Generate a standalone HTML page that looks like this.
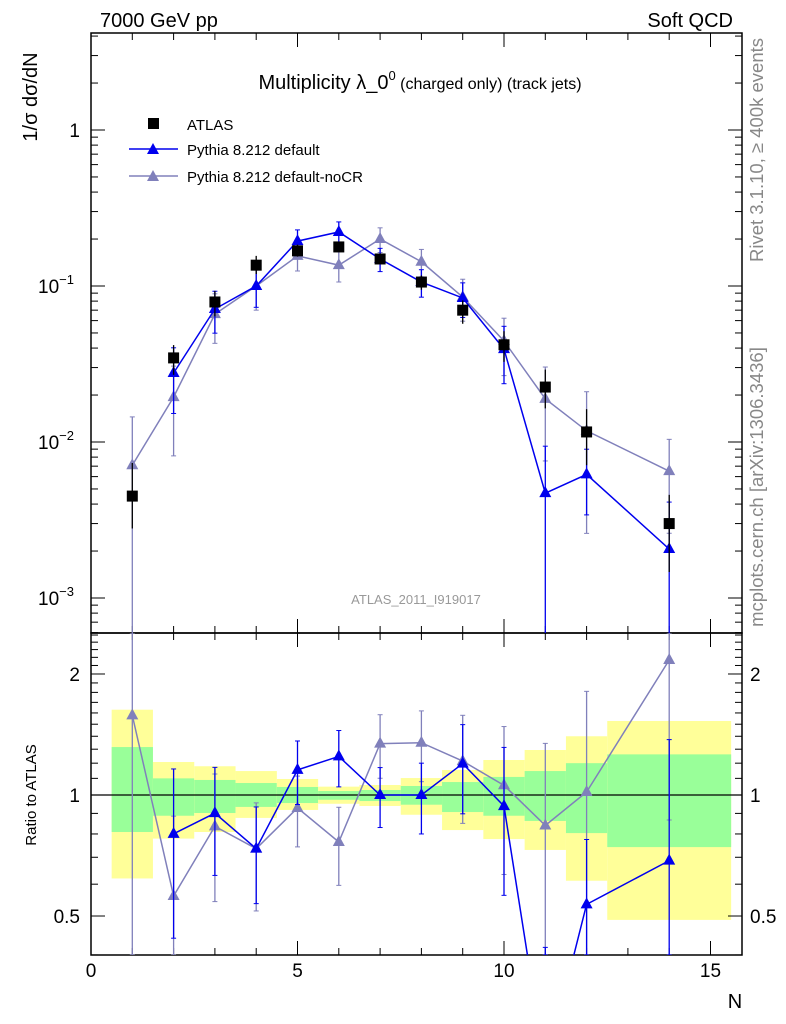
<!DOCTYPE html>
<html><head><meta charset="utf-8"><style>
html,body{margin:0;padding:0;background:#fff;}
svg{display:block;font-family:"Liberation Sans",sans-serif;}
</style></head><body>
<svg id="chart" width="786" height="1024" viewBox="0 0 786 1024" xmlns="http://www.w3.org/2000/svg">
<g id="bands"></g>
<g id="axes"></g>
<g id="series"></g>
<text x="100" y="27" font-size="20">7000 GeV pp</text>
<text x="733" y="27" font-size="20" text-anchor="end">Soft QCD</text>
<text x="420" y="89" font-size="20" text-anchor="middle">Multiplicity λ_0<tspan font-size="13" dy="-9">0</tspan><tspan font-size="16" dy="9"> (charged only) (track jets)</tspan></text>
<text transform="translate(37,97) rotate(-90)" font-size="20" text-anchor="middle">1/σ dσ/dN</text>
<text transform="translate(36,795) rotate(-90)" font-size="15" text-anchor="middle">Ratio to ATLAS</text>
<text x="735" y="1008" font-size="20" text-anchor="middle">N</text>
<text transform="translate(763,150) rotate(-90)" font-size="18.5" fill="#888" text-anchor="middle">Rivet 3.1.10, ≥ 400k events</text>
<text transform="translate(763,487) rotate(-90)" font-size="18.5" fill="#888" text-anchor="middle">mcplots.cern.ch [arXiv:1306.3436]</text>
<text x="416" y="604" font-size="13" fill="#999" text-anchor="middle">ATLAS_2011_I919017</text>
<g>
<g><rect x="148" y="118" width="11" height="11" fill="#000"/><text x="187" y="130" font-size="15">ATLAS</text></g>
<g><line x1="129" y1="149" x2="178" y2="149" stroke="#0000ee" stroke-width="1.5"/><polygon points="153,143 159,154 147,154" fill="#0000ee"/><text x="187" y="155" font-size="15">Pythia 8.212 default</text></g>
<g><line x1="129" y1="176" x2="178" y2="176" stroke="#8080bb" stroke-width="1.5"/><polygon points="153,170 159,181 147,181" fill="#8080bb"/><text x="187" y="182" font-size="15">Pythia 8.212 default-noCR</text></g>
</g>
</svg>
<script>
const N = [1,2,3,4,5,6,7,8,9,10,11,12,14];
const binLo = [0.5,1.5,2.5,3.5,4.5,5.5,6.5,7.5,8.5,9.5,10.5,11.5,12.5];
const binHi = [1.5,2.5,3.5,4.5,5.5,6.5,7.5,8.5,9.5,10.5,11.5,12.5,15.5];
const atlas = [0.0045,0.0346,0.079,0.136,0.168,0.178,0.149,0.106,0.070,0.042,0.0225,0.0116,0.0030];
const yelUp = [1.63,1.208,1.179,1.147,1.096,1.049,1.059,1.102,1.154,1.222,1.294,1.40,1.528];
const yelDn = [0.62,0.779,0.809,0.877,0.918,0.951,0.939,0.893,0.818,0.777,0.73,0.612,0.489];
const grnUp = [1.316,1.10,1.09,1.071,1.047,1.023,1.029,1.053,1.077,1.109,1.147,1.20,1.262];
const grnDn = [0.809,0.888,0.902,0.934,0.955,0.973,0.966,0.946,0.907,0.888,0.862,0.804,0.742];
const defN = [2,3,4,5,6,7,8,9,10,11,12,14];
const defVal = [0.0277,0.0712,0.100,0.194,0.222,0.149,0.106,0.0838,0.0394,0.0047,0.0062,0.00206];
const defErr = [0.45,0.3,0.27,0.18,0.16,0.17,0.2,0.25,0.4,1.0,0.45,1.0];
const ncrN = [1,2,3,4,5,6,7,8,9,10,11,12,14];
const ncrVal = [0.0071,0.0194,0.066,0.100,0.156,0.136,0.200,0.143,0.085,0.0444,0.0189,0.0118,0.0065];
const ncrErr = [1.04,0.58,0.35,0.3,0.2,0.22,0.18,0.2,0.3,0.4,0.6,0.78,0.6];

const NS='http://www.w3.org/2000/svg';
const X0=91,X1=742,MT=33,MB=633,RB=955;
const xs=v=>X0+v*41.3;
const ym=v=>130-Math.log10(v)*156;
const yr=v=>795-Math.log10(v)*402;
const clampM=y=>Math.max(MT,Math.min(MB,y));
const clampR=y=>Math.max(MB,Math.min(RB,y));
function el(p,tag,attrs){const e=document.createElementNS(NS,tag);for(const k in attrs)e.setAttribute(k,attrs[k]);p.appendChild(e);return e;}
const bands=document.getElementById('bands'),axes=document.getElementById('axes'),ser=document.getElementById('series');

for(let i=0;i<N.length;i++){
  const r1=el(bands,'rect',{x:xs(binLo[i]),y:yr(yelUp[i]),width:xs(binHi[i])-xs(binLo[i]),height:yr(yelDn[i])-yr(yelUp[i]),fill:'#ffff99'});
  
  
  const r2=el(bands,'rect',{x:xs(binLo[i]),y:yr(grnUp[i]),width:xs(binHi[i])-xs(binLo[i]),height:yr(grnDn[i])-yr(grnUp[i]),fill:'#99ff99'});
  
  
}
el(axes,'rect',{x:X0,y:MT,width:X1-X0,height:MB-MT,fill:'none',stroke:'#000','stroke-width':1.5});
el(axes,'rect',{x:X0,y:MB,width:X1-X0,height:RB-MB,fill:'none',stroke:'#000','stroke-width':1.5});
el(axes,'line',{x1:X0,y1:yr(1),x2:X1,y2:yr(1),stroke:'#000','stroke-width':1.2});
for(let v=0;v<=15.6;v++){
  const x=xs(v),L=v%5===0?14:7;
  [[MT,MT+L],[MB,MB-L],[MB,MB+L],[RB,RB-L]].forEach(a=>el(axes,'line',{x1:x,y1:a[0],x2:x,y2:a[1],stroke:'#000','stroke-width':1}));
  if(v%5===0){const t=el(axes,'text',{x:x,y:977,'font-size':19,'text-anchor':'middle'});t.textContent=v;
    
    }
}
for(let d=-4;d<=0;d++){for(let m=1;m<10;m++){const v=m*Math.pow(10,d),y=ym(v);if(y<MT||y>MB)continue;const L=m===1?14:7;
  el(axes,'line',{x1:X0,y1:y,x2:X0+L,y2:y,stroke:'#000'});el(axes,'line',{x1:X1,y1:y,x2:X1-L,y2:y,stroke:'#000'});}}
const mlabels=[[1,'1'],[0.1,'10<tspan font-size="13" dy="-9">−1</tspan>'],[0.01,'10<tspan font-size="13" dy="-9">−2</tspan>'],[0.001,'10<tspan font-size="13" dy="-9">−3</tspan>']];
mlabels.forEach(a=>{const t=el(axes,'text',{x:a[0]===1?80:38,y:ym(a[0])+7,'font-size':19,'text-anchor':a[0]===1?'end':'start'});t.innerHTML=a[1];
  
  });
for(let k=4;k<=25;k++){const v=k/10,y=yr(v);if(y<MB||y>RB)continue;const L=(k===5||k===10||k===20)?14:7;
  el(axes,'line',{x1:X0,y1:y,x2:X0+L,y2:y,stroke:'#000'});el(axes,'line',{x1:X1,y1:y,x2:X1-L,y2:y,stroke:'#000'});}
[[0.5,'0.5'],[1,'1'],[2,'2']].forEach(a=>{
  const t=el(axes,'text',{x:80,y:yr(a[0])+7,'font-size':19,'text-anchor':'end'});t.textContent=a[1];
  
  
  const t2=el(axes,'text',{x:750,y:yr(a[0])+7,'font-size':19});t2.textContent=a[1];
  
  });

function tri(g,x,y,c,nm){const p=el(g,'polygon',{points:`${x},${y-7} ${x+6},${y+4} ${x-6},${y+4}`,fill:c});
  
  }
function drawMC(ns,vals,errs,color,name){
  const g=el(ser,'g',{});
  
  
  el(g,'polyline',{points:ns.map((n,i)=>xs(n)+','+clampM(ym(vals[i]))).join(' '),fill:'none',stroke:color,'stroke-width':1.5});
  ns.forEach((n,i)=>{const x=xs(n),hi=vals[i]*(1+errs[i]),lo=vals[i]*(1-errs[i]);
    const y1=clampM(ym(hi)),y2=lo>0?clampM(ym(lo)):MB;
    el(g,'line',{x1:x,y1:y1,x2:x,y2:y2,stroke:color,'stroke-width':1.3});
    el(g,'line',{x1:x-2.5,y1:y1,x2:x+2.5,y2:y1,stroke:color});
    if(y2<MB)el(g,'line',{x1:x-2.5,y1:y2,x2:x+2.5,y2:y2,stroke:color});
    const y=ym(vals[i]);if(y<MB)tri(g,x,y,color,name+'-point');});
  const rat=ns.map((n,i)=>vals[i]/atlas[N.indexOf(n)]);
  const cp=el(g,'clipPath',{id:'c'+name});el(cp,'rect',{x:X0,y:MB,width:X1-X0,height:RB-MB});
  const gr=el(g,'g',{'clip-path':'url(#c'+name+')'});
  el(gr,'polyline',{points:ns.map((n,i)=>xs(n)+','+yr(rat[i])).join(' '),fill:'none',stroke:color,'stroke-width':1.5});
  ns.forEach((n,i)=>{const x=xs(n),hi=rat[i]*(1+errs[i]),lo=rat[i]*(1-errs[i]);
    const y1=clampR(yr(hi)),y2=lo>0?clampR(yr(lo)):RB;
    el(gr,'line',{x1:x,y1:y1,x2:x,y2:y2,stroke:color,'stroke-width':1.3});
    el(gr,'line',{x1:x-2.5,y1:y1,x2:x+2.5,y2:y1,stroke:color});
    el(gr,'line',{x1:x-2.5,y1:y2,x2:x+2.5,y2:y2,stroke:color});
    tri(gr,x,yr(rat[i]),color,name+'-ratio-point');});
}
drawMC(ncrN,ncrVal,ncrErr,'#8080bb','pythia-default-nocr');
drawMC(defN,defVal,defErr,'#0000ee','pythia-default');
const ga=el(ser,'g',{});


N.forEach((n,i)=>{const x=xs(n),y1=ym(atlas[i]*yelUp[i]),y2=ym(atlas[i]*yelDn[i]);
  el(ga,'line',{x1:x,y1:y1,x2:x,y2:y2,stroke:'#000','stroke-width':1.3});
  const r=el(ga,'rect',{x:x-5.5,y:ym(atlas[i])-5.5,width:11,height:11,fill:'#000'});
  
  });
</script>
</body></html>
